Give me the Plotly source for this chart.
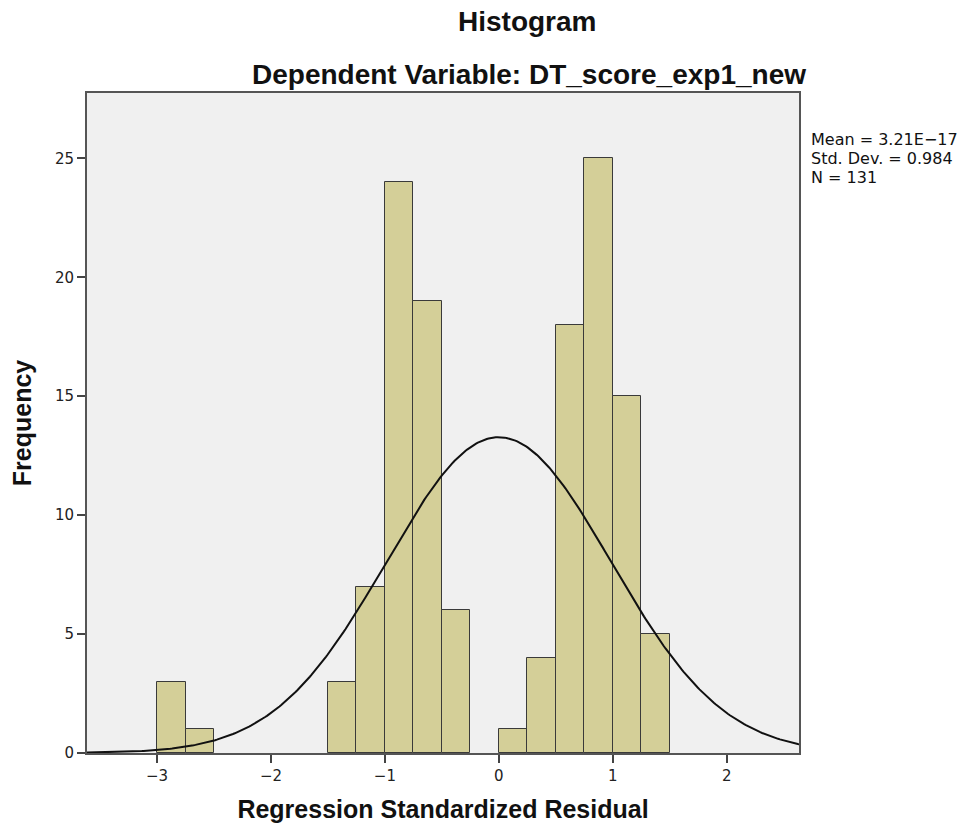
import numpy as np
import plotly.graph_objects as go

# Histogram bins (left edges, width 0.25) and counts
bin_left = [-3.0, -2.75, -1.5, -1.25, -1.0, -0.75, -0.5, 0.0, 0.25, 0.5, 0.75, 1.0, 1.25]
counts = [3, 1, 3, 7, 24, 19, 6, 1, 4, 18, 25, 15, 5]
bin_width = 0.25

mean_val = 3.21e-17
sd_val = 0.984
n_val = 131

x_ticks = [-3, -2, -1, 0, 1, 2]
x_tick_text = ["\u22123", "\u22122", "\u22121", "0", "1", "2"]
y_ticks = [0, 5, 10, 15, 20, 25]

stats_lines = ["Mean = 3.21E\u221217", "Std. Dev. = 0.984", "N = 131"]

centers = [b + bin_width / 2 for b in bin_left]

# Normal curve scaled to frequency
xs = np.linspace(-3.62, 2.64, 400)
ys = n_val * bin_width / (sd_val * np.sqrt(2 * np.pi)) * np.exp(-0.5 * ((xs - mean_val) / sd_val) ** 2)

title_font = "Liberation Sans Narrow, Arial Narrow, Liberation Sans, sans-serif"
tick_font = "DejaVu Sans, Verdana, sans-serif"

W, H = 971, 832
ML, MR, MT, MB = 87, 172, 93, 79
pw = W - ML - MR
ph = H - MT - MB


def px_to_paper(px, py):
    return (px - ML) / pw, (H - py - MB) / ph


fig = go.Figure()
fig.add_trace(go.Bar(
    x=centers, y=counts, width=bin_width,
    marker=dict(color="#d4cf98", line=dict(color="#3a3a3a", width=1)),
    showlegend=False, hoverinfo="x+y",
))
fig.add_trace(go.Scatter(
    x=xs, y=ys, mode="lines",
    line=dict(color="#111111", width=2),
    showlegend=False, hoverinfo="skip",
))

annotations = []
for text, (cx, cy) in [("<b>Histogram</b>", (527, 22)),
                       ("<b>Dependent Variable: DT_score_exp1_new</b>", (529, 75))]:
    ax, ay = px_to_paper(cx, cy)
    annotations.append(dict(text=text, x=ax, y=ay, xref="paper", yref="paper",
                            xanchor="center", yanchor="middle", showarrow=False,
                            font=dict(family=title_font, size=28, color="#111111")))

for i, line in enumerate(stats_lines):
    ax, ay = px_to_paper(809, 140 + 18.5 * i)
    annotations.append(dict(text=line, x=ax, y=ay, xref="paper", yref="paper",
                            xanchor="left", yanchor="middle", showarrow=False,
                            font=dict(family=tick_font, size=16, color="#111111")))

fig.update_layout(
    width=W, height=H,
    margin=dict(l=ML, r=MR, t=MT, b=MB),
    paper_bgcolor="white",
    plot_bgcolor="#f0f0f0",
    bargap=0,
    xaxis=dict(
        range=[-3.615, 2.635], tickvals=x_ticks, ticktext=x_tick_text,
        showgrid=False, zeroline=False,
        showline=True, linecolor="#555555", linewidth=2, mirror=True,
        ticks="outside", ticklen=8, tickcolor="#444444", tickwidth=1.5,
        tickfont=dict(family=tick_font, size=15, color="#222222"),
        title=dict(text="<b>Regression Standardized Residual</b>",
                   font=dict(family=title_font, size=25, color="#111111"), standoff=16),
    ),
    yaxis=dict(
        range=[0, 27.75], tickvals=y_ticks,
        showgrid=False, zeroline=False,
        showline=True, linecolor="#555555", linewidth=2, mirror=True,
        ticks="outside", ticklen=8, tickcolor="#444444", tickwidth=1.5,
        tickfont=dict(family=tick_font, size=15, color="#222222"),
        title=dict(text="<b>Frequency</b>",
                   font=dict(family=title_font, size=25, color="#111111"), standoff=16),
    ),
    annotations=annotations,
)

fig.write_html("out.html")
